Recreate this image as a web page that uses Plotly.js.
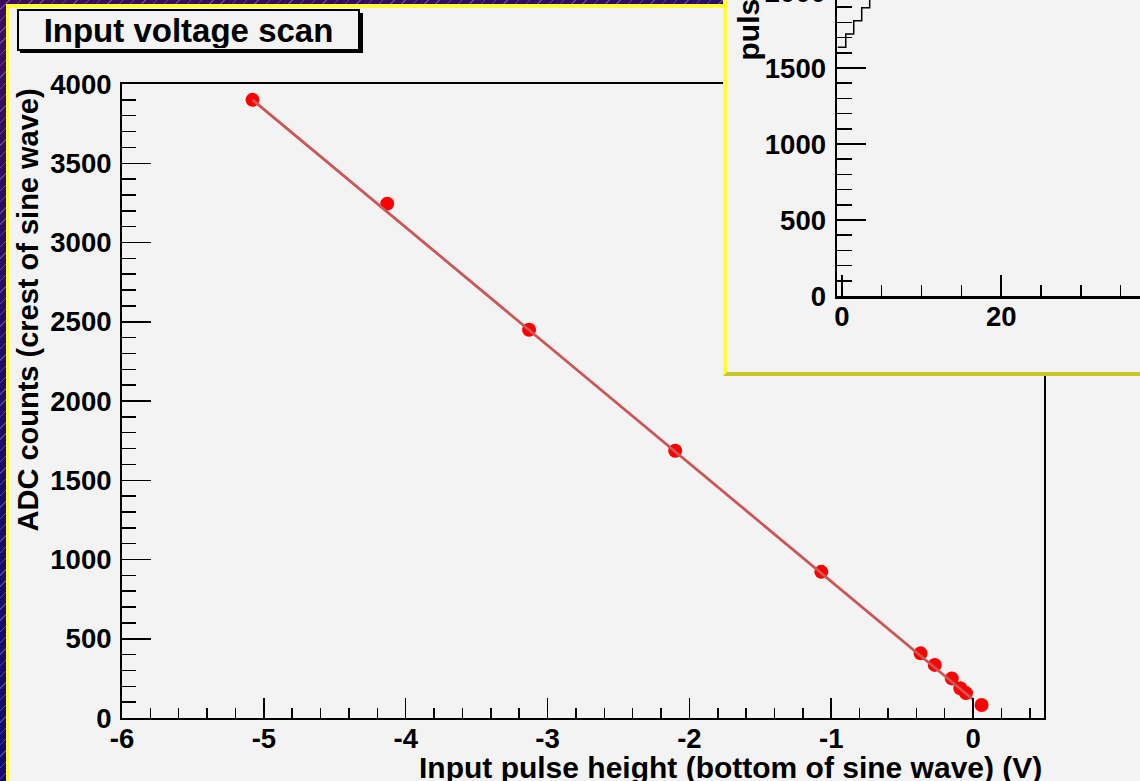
<!DOCTYPE html>
<html>
<head>
<meta charset="utf-8">
<script src="https://cdn.plot.ly/plotly-3.0.1.min.js"></script>
<style>
  html, body { margin:0; padding:0; width:1140px; height:781px; overflow:hidden; }
  body {
    position:relative;
    background:
      repeating-linear-gradient(-45deg, rgba(0,0,0,0) 0px, rgba(0,0,0,0) 7px, rgba(150,140,210,0.45) 7px, rgba(150,140,210,0.45) 8px),
      linear-gradient(160deg, #3c0d5c 0%, #1a0b6e 40%, #100878 100%);
  }
  #canvasbg { position:absolute; left:6px; top:4px; width:1134px; height:777px; box-sizing:border-box;
              background:#f3f3f3; border-left:3px solid #ffff33; border-top:4px solid #ffff33; }
  #main { position:absolute; left:0; top:0; width:1140px; height:781px; }
  #insetbox { position:absolute; left:723px; top:-404px; width:800px; height:780px; box-sizing:border-box;
              background:#f3f3f3; border-left:4px solid #ffff33; border-bottom:4px solid #c8c828; }
  #inset { position:absolute; left:0; top:0; width:700px; height:776px; }
</style>
</head>
<body>
<div id="canvasbg"></div>
<div id="main"></div>
<div id="insetbox"><div id="inset"></div></div>
<script>
// ---- main graph data ----
const pulseHeight = [-5.08, -4.13, -3.13, -2.10, -1.07, -0.37, -0.27, -0.15, -0.09, -0.05, 0.06];
const adcCounts   = [3900, 3245, 2450, 1686, 922, 408, 335, 250, 188, 157, 82];
const fitX = [-5.08, 0.0];
const fitY = [3900, 117];
const xTickVals = [-6, -5, -4, -3, -2, -1, 0];
const xTickText = ["-6", "-5", "-4", "-3", "-2", "-1", "0"];
const titleText = "Input voltage scan";
const xTitle = "Input pulse height (bottom of sine wave) (V)";
const yTitle = "ADC counts (crest of sine wave)";

// ---- inset histogram (partially visible) ----
const binEdges = [-0.5, 0.5, 1.5, 2.5, 3.5, 4.5];
const binCounts = [1636, 1724, 1811, 1897, 1985, 1985];
const insetYTitle = "pulse height";

const FAM = "Liberation Sans, Arial, Helvetica, sans-serif";
const TICKFONT = {family:FAM, size:27.5, color:"#000", weight:"bold"};
const TITLEFONT = {family:FAM, size:30, color:"#000", weight:"bold"};
const YTITLEFONT = {family:FAM, size:29, color:"#000", weight:"bold"};

// pixel helpers for the main layout (plot area 122..1044 x, 84..718 y)
const L=122, R=96, T=84, B=63, W=1140, H=781;
const pw = W-L-R, ph = H-T-B;
const px = x => (x-L)/pw;
const py = y => (H-B-y)/ph;

const traces = [
  {x:pulseHeight, y:adcCounts, type:"scatter", mode:"markers",
   marker:{color:"#ff0000", size:14}, hoverinfo:"x+y"},
  {x:fitX, y:fitY, type:"scatter", mode:"lines",
   line:{color:"#cc5656", width:2.8}, hoverinfo:"skip"}
];

const layout = {
  width:W, height:H,
  margin:{l:L, r:R, t:T, b:B, pad:0},
  paper_bgcolor:"rgba(0,0,0,0)", plot_bgcolor:"#f3f3f3",
  showlegend:false,
  font:TICKFONT,
  xaxis:{range:[-6,0.5], tickmode:"array", tickvals:xTickVals, ticktext:xTickText,
         ticks:"inside", ticklen:20, tickwidth:1.5, tickcolor:"#000",
         minor:{dtick:0.2, tick0:-6, ticks:"inside", ticklen:10, tickwidth:1.5, tickcolor:"#000"},
         showline:true, linecolor:"#000", linewidth:2, mirror:true,
         showgrid:false, zeroline:false, tickfont:TICKFONT, ticklabelstandoff:-5},
  yaxis:{range:[0,4000], tick0:0, dtick:500, ticks:"inside", ticklen:29, tickwidth:1.5, tickcolor:"#000",
         minor:{dtick:100, ticks:"inside", ticklen:14, tickwidth:1.5, tickcolor:"#000"},
         showline:true, linecolor:"#000", linewidth:2, mirror:true,
         showgrid:false, zeroline:false, tickfont:TICKFONT, ticklabelstandoff:3},
  shapes:[
    {type:"rect", xref:"paper", yref:"paper", x0:px(20), x1:px(363), y0:py(13), y1:py(53),
     fillcolor:"#000", line:{width:0}, layer:"below"}
  ],
  annotations:[
    {text:titleText, xref:"paper", yref:"paper", x:px(17), y:py(9), xanchor:"left", yanchor:"top",
     showarrow:false, width:337, height:36, borderpad:1, borderwidth:2, bordercolor:"#000",
     bgcolor:"#f3f3f3", align:"center", font:{family:FAM, size:33, color:"#000", weight:"bold"}},
    {text:xTitle, xref:"paper", yref:"paper", x:1, y:py(767), xanchor:"right", yanchor:"middle",
     showarrow:false, font:TITLEFONT},
    {text:yTitle, xref:"paper", yref:"paper", x:px(27), y:py(87), xanchor:"center", yanchor:"top",
     textangle:-90, showarrow:false, font:YTITLEFONT}
  ]
};

Plotly.newPlot("main", traces, layout, {displayModeBar:false, staticPlot:true});

// ---- inset ----
const iL=110, iR=54, iT=320, iB=76, iW=700, iH=776;
const ipw = iW-iL-iR, iph = iH-iT-iB;
const ipx = x => (x-iL)/ipw;   // x in inset-div pixels
const ipy = y => (iH-iB-y)/iph;
const insetTraces = [
  {x:binEdges, y:binCounts, type:"scatter", mode:"lines", line:{shape:"hv", color:"#000", width:1.5}, hoverinfo:"skip"}
];
const insetLayout = {
  width:iW, height:iH,
  margin:{l:iL, r:iR, t:iT, b:iB, pad:0},
  paper_bgcolor:"rgba(0,0,0,0)", plot_bgcolor:"#f3f3f3",
  showlegend:false, font:TICKFONT,
  xaxis:{range:[-0.6, -0.6+ipw/7.97], tick0:0, dtick:20, ticks:"inside", ticklen:21, tickwidth:1.5, tickcolor:"#000",
         minor:{dtick:5, ticks:"inside", ticklen:11, tickwidth:1.5, tickcolor:"#000"},
         showline:true, linecolor:"#000", linewidth:2.5, mirror:false,
         showgrid:false, zeroline:false, tickfont:TICKFONT, ticklabelstandoff:-6},
  yaxis:{range:[0,2500], tick0:0, dtick:500, ticks:"inside", ticklen:29, tickwidth:1.5, tickcolor:"#000",
         minor:{dtick:100, ticks:"inside", ticklen:15, tickwidth:1.5, tickcolor:"#000"},
         showline:true, linecolor:"#000", linewidth:2.5, mirror:false,
         showgrid:false, zeroline:false, tickfont:TICKFONT, ticklabelstandoff:3},
  annotations:[
    {text:insetYTitle, xref:"paper", yref:"paper", x:ipx(748-727), y:ipy(63+404), xanchor:"center", yanchor:"bottom",
     textangle:-90, showarrow:false, font:TITLEFONT}
  ]
};
Plotly.newPlot("inset", insetTraces, insetLayout, {displayModeBar:false, staticPlot:true});
</script>
</body>
</html>
